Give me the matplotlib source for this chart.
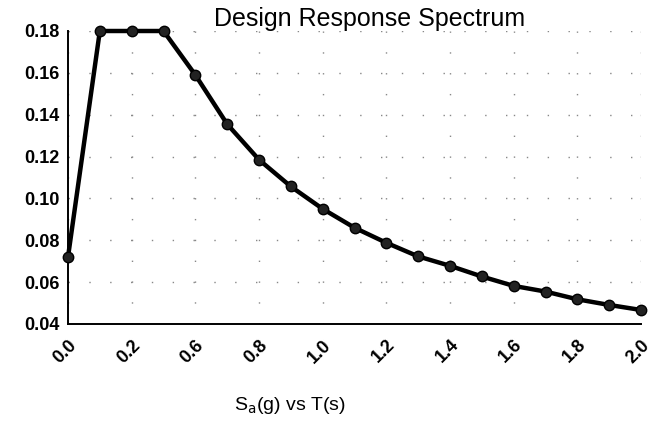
import matplotlib
matplotlib.use("Agg")
import matplotlib.pyplot as plt
import numpy as np

# period categories (Excel style category axis), only every other one labelled
periods = ["0.0", "0.1", "0.2", "0.5", "0.6", "0.7", "0.8", "0.9", "1.0", "1.1",
           "1.2", "1.3", "1.4", "1.5", "1.6", "1.7", "1.8", "1.9", "2.0"]
sa_g = [0.072, 0.180, 0.180, 0.180, 0.159, 0.1355, 0.1185, 0.1057, 0.095, 0.086,
        0.0788, 0.0723, 0.0678, 0.0627, 0.0582, 0.0555, 0.0518, 0.0491, 0.0467]
y_ticks = [0.04, 0.06, 0.08, 0.10, 0.12, 0.14, 0.16, 0.18]

plt.rcParams["font.family"] = ["Liberation Sans", "DejaVu Sans"]

fig = plt.figure(figsize=(6.53, 4.23), dpi=100)
ax = fig.add_axes([68 / 653, 1 - 324 / 423, 573 / 653, 293 / 423])

idx = np.arange(len(periods))
ax.plot(idx, sa_g, color="black", lw=3.2, marker="o", ms=7.5, mfc="#222222",
        mec="black", clip_on=False, zorder=3)

ax.set_xlim(0, len(periods) - 1)
ax.set_ylim(0.04, 0.18)

ax.set_yticks(y_ticks)
ax.set_yticklabels(["%.2f" % v for v in y_ticks], fontsize=13, fontweight="bold")
ax.set_xticks(idx[::2])
ax.set_xticklabels(periods[::2], rotation=45, ha="right", va="top",
                   rotation_mode="anchor", fontsize=13, fontweight="bold")
ax.tick_params(axis="both", length=0, pad=6)
ax.tick_params(axis="x", pad=9)

for s in ["top", "right"]:
    ax.spines[s].set_visible(False)
ax.spines["left"].set_linewidth(1.4)
ax.spines["bottom"].set_linewidth(1.4)

ax.grid(True, color="#888888", ls=(0, (1, 14)), lw=1.0)
ax.set_axisbelow(True)

fig.text(370 / 653, 1 - 19 / 423, "Design Response Spectrum",
         ha="center", va="center", fontsize=18)
fig.text(290 / 653, 1 - 405 / 423, r"S$_\mathrm{a}$(g) vs T(s)", ha="center",
         va="center", fontsize=14)

fig.savefig("out.png", dpi=100)
